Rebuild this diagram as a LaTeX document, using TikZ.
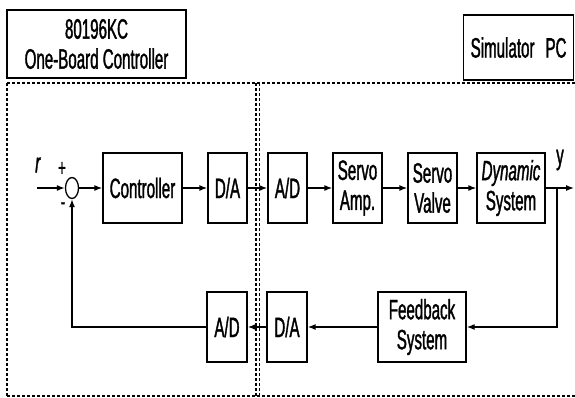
\documentclass[tikz,border=0pt]{standalone}
\usepackage{fontspec}
\setmainfont[FakeStretch=0.54,FakeBold=1.2]{Liberation Sans}
\usetikzlibrary{arrows.meta,shapes.geometric}
\begin{document}
\begin{tikzpicture}[x=1pt,y=-1pt,
  txt/.style={font=\fontsize{28}{30}\selectfont},
  blk/.style={draw,line width=1.3pt,inner sep=0pt,align=center,minimum height=70pt,txt},
  flow/.style={line width=1.3pt,-{Latex[length=8pt,width=6pt]}},
  bound/.style={line width=1.1pt,dash pattern=on 3pt off 2pt}]
\useasboundingbox (0,0) rectangle (575,397);
\clip (0,0) rectangle (575,397);
% title boxes
\node[draw,line width=1.3pt,minimum width=179pt,minimum height=68pt,inner sep=0pt,align=center,txt] (obc) at (96.5,44) {80196KC\\One-Board Controller};
\node[draw,line width=1.3pt,minimum height=65pt,anchor=west,inner xsep=7pt,inner ysep=0pt,txt] (sim) at (463,47.5) {Simulator\hspace{11pt}PC\hspace{20pt}};
% boundaries
\draw[bound] (7,83) -- (575,83);
\draw[bound] (7,83) -- (7,396);
\draw[bound] (7,396) -- (575,396);
\draw[bound] (256,83) -- (256,396);
\draw[bound] (259.5,83) -- (259.5,396);
% upper row
\node[draw,ellipse,line width=1.3pt,minimum width=13pt,minimum height=21pt,inner sep=0pt] (sum) at (72,188) {};
\node[blk,minimum width=79pt] (ctrl) at (142.5,188) {Controller};
\node[blk,minimum width=39pt] (da1) at (227.5,188) {D/A};
\node[blk,minimum width=39pt] (ad1) at (287.5,188) {A/D};
\node[blk,minimum width=49pt] (amp) at (357.5,188) {Servo\\Amp.};
\node[blk,minimum width=49pt] (valve) at (432.5,188) {Servo\\Valve};
\node[blk,minimum width=68pt] (dyn) at (511,188) {\textit{Dynamic}\\System};
% lower row
\node[blk,minimum width=88pt] (fb) at (422,327) {Feedback\\System};
\node[blk,minimum width=40pt] (da2) at (287,327) {D/A};
\node[blk,minimum width=40pt] (ad2) at (227,327) {A/D};
% labels
\node[txt] (rlab) at (38,165) {\textit{r}};
\node[font=\fontsize{24}{24}\selectfont] (plus) at (62,169) {+};
\node[font=\fontsize{24}{24}\selectfont] (minus) at (63,206) {-};
\node[txt] (ylab) at (560,160) {y};
% connectors
\coordinate (rin) at (37,188);
\coordinate (yout) at (574,188);
\coordinate (br) at (557,188);
\draw[flow] (rin) -- (sum.west);
\draw[flow] (sum.east) -- (ctrl.west);
\draw[flow] (ctrl.east) -- (da1.west);
\draw[flow] (da1.east) -- (ad1.west);
\draw[flow] (ad1.east) -- (amp.west);
\draw[flow] (amp.east) -- (valve.west);
\draw[flow] (valve.east) -- (dyn.west);
\draw[flow] (dyn.east) -- (yout);
\draw[flow] (br) |- (fb.east);
\draw[flow] (fb.west) -- (da2.east);
\draw[flow] (da2.west) -- (ad2.east);
\draw[flow] (ad2.west) -| (sum.south);
\end{tikzpicture}
\end{document}
